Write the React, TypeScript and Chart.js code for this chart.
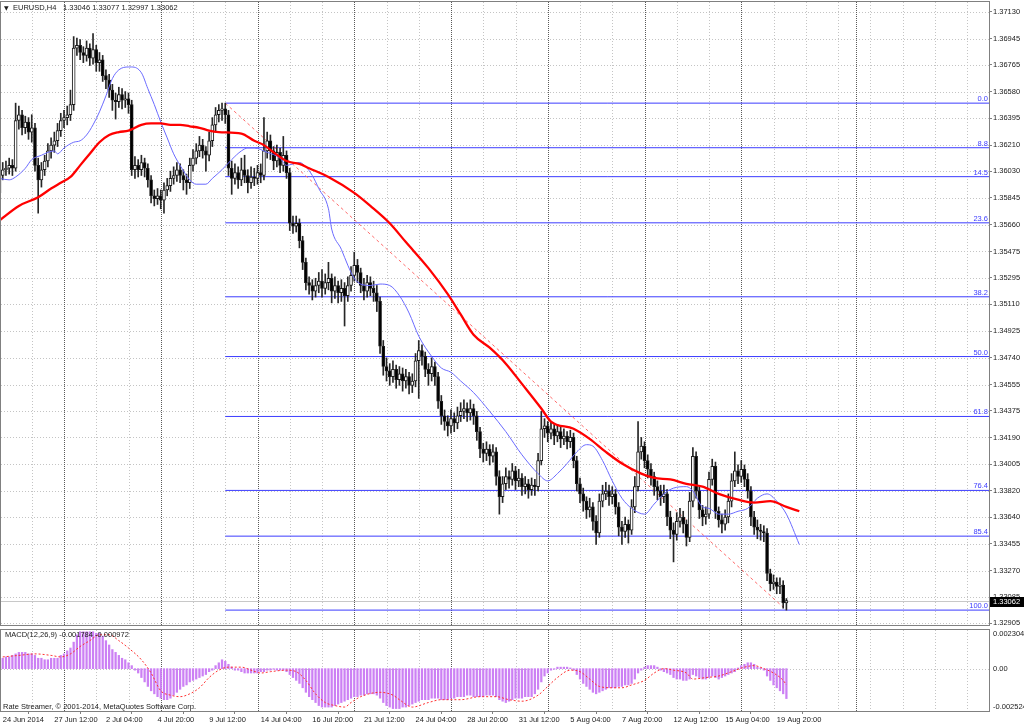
import React, { useEffect, useRef } from "react";
import { Chart, registerables } from "chart.js";

Chart.register(...registerables);

// ---------------- data (EURUSD H4) ----------------
const FIRST_OPEN = 1.3588;
const CLOSES = [
  1.3600, 1.3604, 1.3605, 1.3607, 1.3605, 1.3638, 1.3642, 1.3633, 1.3637, 1.3630,
  1.3633, 1.3607, 1.3597, 1.3604, 1.3610, 1.3617, 1.3621, 1.3624, 1.3631, 1.3638,
  1.3640, 1.3642, 1.3649, 1.3688, 1.3690, 1.3685, 1.3683, 1.3688, 1.3681, 1.3687,
  1.3678, 1.3680, 1.3669, 1.3666, 1.3659, 1.3652, 1.3651, 1.3656, 1.3652, 1.3653,
  1.3649, 1.3604, 1.3607, 1.3604, 1.3609, 1.3605, 1.3597, 1.3586, 1.3584, 1.3586,
  1.3583, 1.3590, 1.3593, 1.3598, 1.3600, 1.3604, 1.3600, 1.3597, 1.3595, 1.3607,
  1.3612, 1.3617, 1.3621, 1.3617, 1.3614, 1.3624, 1.3635, 1.3642, 1.3645, 1.3646,
  1.3642, 1.3605, 1.3598, 1.3602, 1.3597, 1.3604, 1.3600, 1.3595, 1.3599, 1.3598,
  1.3602, 1.3600, 1.3617, 1.3624, 1.3617, 1.3610, 1.3616, 1.3607, 1.3614, 1.3602,
  1.3567, 1.3565, 1.3567, 1.3555, 1.3540, 1.3526, 1.3524, 1.3520, 1.3524, 1.3527,
  1.3522, 1.3526, 1.3529, 1.3520, 1.3524, 1.3519, 1.3522, 1.3517, 1.3524, 1.3531,
  1.3538, 1.3533, 1.3524, 1.3520, 1.3526, 1.3522, 1.3519, 1.3513, 1.3482, 1.3468,
  1.3465, 1.3461, 1.3466, 1.3459, 1.3463, 1.3458, 1.3461, 1.3455, 1.3458, 1.3472,
  1.3479, 1.3475, 1.3466, 1.3463, 1.3468, 1.3461, 1.3444, 1.3434, 1.3430, 1.3427,
  1.3432, 1.3429, 1.3434, 1.3437, 1.3439, 1.3436, 1.3439, 1.3434, 1.3423, 1.3411,
  1.3408, 1.3411, 1.3406, 1.3409, 1.3392, 1.3378, 1.3387, 1.3392, 1.3390, 1.3396,
  1.3389, 1.3391, 1.3385, 1.3387, 1.3383, 1.3386, 1.3385, 1.3403, 1.3425, 1.3427,
  1.3422, 1.3425, 1.3420, 1.3423, 1.3418, 1.3420, 1.3416, 1.3419, 1.3403, 1.3387,
  1.3380, 1.3375, 1.3369, 1.3371, 1.3361, 1.3353, 1.3375, 1.3380, 1.3382, 1.3378,
  1.3380, 1.3371, 1.3357, 1.3354, 1.3359, 1.3355, 1.3371, 1.3385, 1.3409, 1.3413,
  1.3403, 1.3397, 1.3392, 1.3385, 1.3382, 1.3378, 1.3380, 1.3364, 1.3355, 1.3352,
  1.3361, 1.3364, 1.3359, 1.3350, 1.3375, 1.3406, 1.3382, 1.3369, 1.3364, 1.3366,
  1.3390, 1.3399, 1.3368, 1.3362, 1.3359, 1.3364, 1.3375, 1.3389, 1.3396, 1.3392,
  1.3397, 1.3390, 1.3382, 1.3364, 1.3357, 1.3355, 1.3354, 1.3353, 1.3325, 1.3318,
  1.3319, 1.3316, 1.3317, 1.33046, 1.33062,
];
const HIGHS = [
  1.3619, 1.3609, 1.3610, 1.3612, 1.3611, 1.3650, 1.3648, 1.3645, 1.3641, 1.3640,
  1.3642, 1.3636, 1.3612, 1.3609, 1.3614, 1.3622, 1.3626, 1.3630, 1.3636, 1.3643,
  1.3645, 1.3648, 1.3659, 1.3696, 1.3695, 1.3694, 1.3689, 1.3693, 1.3691, 1.3698,
  1.3690, 1.3685, 1.3683, 1.3673, 1.3670, 1.3663, 1.3657, 1.3661, 1.3660, 1.3658,
  1.3657, 1.3652, 1.3613, 1.3611, 1.3614, 1.3612, 1.3608, 1.3600, 1.3590, 1.3591,
  1.3590, 1.3595, 1.3598, 1.3603, 1.3606, 1.3609, 1.3608, 1.3604, 1.3601, 1.3612,
  1.3618, 1.3622, 1.3627, 1.3625, 1.3620, 1.3630, 1.3640, 1.3647, 1.3649, 1.3650,
  1.3650, 1.3645, 1.3610, 1.3608, 1.3606, 1.3612, 1.3614, 1.3604, 1.3606, 1.3605,
  1.3607, 1.3608, 1.3640, 1.3630, 1.3628, 1.3620, 1.3621, 1.3619, 1.3627, 1.3617,
  1.3605, 1.3572, 1.3572, 1.3570, 1.3558, 1.3543, 1.3530, 1.3528, 1.3529, 1.3533,
  1.3535, 1.3532, 1.3540, 1.3532, 1.3530, 1.3527, 1.3528, 1.3526, 1.3530, 1.3537,
  1.3547, 1.3542, 1.3536, 1.3529, 1.3531, 1.3530, 1.3527, 1.3524, 1.3516, 1.3486,
  1.3474, 1.3470, 1.3472, 1.3469, 1.3468, 1.3467, 1.3466, 1.3464, 1.3463, 1.3477,
  1.3486, 1.3483, 1.3478, 1.3470, 1.3474, 1.3471, 1.3464, 1.3448, 1.3438, 1.3434,
  1.3438, 1.3436, 1.3440, 1.3443, 1.3445, 1.3443, 1.3445, 1.3442, 1.3437, 1.3426,
  1.3415, 1.3416, 1.3414, 1.3414, 1.3412, 1.3396, 1.3392, 1.3398, 1.3396, 1.3401,
  1.3399, 1.3397, 1.3394, 1.3392, 1.3390, 1.3391, 1.3390, 1.3408, 1.3437, 1.3432,
  1.3430, 1.3430, 1.3428, 1.3428, 1.3426, 1.3425, 1.3423, 1.3424, 1.3422, 1.3406,
  1.3391, 1.3384, 1.3378, 1.3377, 1.3374, 1.3365, 1.3380, 1.3386, 1.3388, 1.3386,
  1.3385, 1.3383, 1.3374, 1.3361, 1.3364, 1.3362, 1.3376, 1.3392, 1.3430, 1.3419,
  1.3416, 1.3407, 1.3401, 1.3395, 1.3389, 1.3386, 1.3386, 1.3383, 1.3368, 1.3360,
  1.3367, 1.3370, 1.3368, 1.3362, 1.3381, 1.3412, 1.3409, 1.3385, 1.3372, 1.3371,
  1.3395, 1.3404, 1.3402, 1.3371, 1.3366, 1.3369, 1.3380, 1.3394, 1.3409, 1.3400,
  1.3403, 1.3400, 1.3394, 1.3385, 1.3368, 1.3362, 1.3359, 1.3358, 1.3356, 1.3328,
  1.3324, 1.3322, 1.3322, 1.3320, 1.33077,
];
const LOWS = [
  1.3585, 1.3597, 1.3600, 1.3601, 1.3600, 1.3603, 1.3632, 1.3628, 1.3629, 1.3625,
  1.3623, 1.3603, 1.3574, 1.3592, 1.3600, 1.3606, 1.3612, 1.3616, 1.3620, 1.3627,
  1.3633, 1.3635, 1.3638, 1.3645, 1.3683, 1.3680, 1.3678, 1.3679, 1.3676, 1.3677,
  1.3672, 1.3672, 1.3665, 1.3660, 1.3654, 1.3645, 1.3639, 1.3647, 1.3646, 1.3647,
  1.3643, 1.3600, 1.3598, 1.3599, 1.3600, 1.3599, 1.3592, 1.3581, 1.3579, 1.3580,
  1.3577, 1.3574, 1.3586, 1.3589, 1.3594, 1.3596, 1.3595, 1.3590, 1.3587, 1.3591,
  1.3603, 1.3608, 1.3613, 1.3612, 1.3603, 1.3610, 1.3620, 1.3630, 1.3637, 1.3638,
  1.3636, 1.3600, 1.3587, 1.3594, 1.3591, 1.3593, 1.3595, 1.3588, 1.3591, 1.3593,
  1.3594, 1.3595, 1.3597, 1.3612, 1.3611, 1.3604, 1.3606, 1.3602, 1.3603, 1.3598,
  1.3562, 1.3560, 1.3561, 1.3550, 1.3535, 1.3521, 1.3518, 1.3514, 1.3516, 1.3519,
  1.3516, 1.3518, 1.3521, 1.3512, 1.3515, 1.3512, 1.3513, 1.3496, 1.3513, 1.3520,
  1.3527, 1.3526, 1.3519, 1.3514, 1.3516, 1.3517, 1.3513, 1.3506, 1.3477, 1.3462,
  1.3458, 1.3455, 1.3457, 1.3453, 1.3455, 1.3451, 1.3453, 1.3449, 1.3450, 1.3454,
  1.3446, 1.3469, 1.3461, 1.3455, 1.3458, 1.3455, 1.3439, 1.3428, 1.3424, 1.3420,
  1.3422, 1.3423, 1.3425, 1.3430, 1.3432, 1.3430, 1.3431, 1.3428, 1.3417, 1.3405,
  1.3402, 1.3403, 1.3400, 1.3402, 1.3386, 1.3366, 1.3374, 1.3383, 1.3384, 1.3386,
  1.3383, 1.3385, 1.3379, 1.3380, 1.3377, 1.3379, 1.3379, 1.3382, 1.3400, 1.3419,
  1.3416, 1.3418, 1.3414, 1.3416, 1.3412, 1.3414, 1.3411, 1.3412, 1.3398, 1.3382,
  1.3374, 1.3368, 1.3363, 1.3364, 1.3355, 1.3345, 1.3350, 1.3371, 1.3376, 1.3372,
  1.3373, 1.3366, 1.3351, 1.3345, 1.3350, 1.3346, 1.3352, 1.3367, 1.3382, 1.3404,
  1.3398, 1.3391, 1.3386, 1.3379, 1.3376, 1.3372, 1.3374, 1.3358, 1.3349, 1.3333,
  1.3348, 1.3357, 1.3353, 1.3344, 1.3347, 1.3371, 1.3377, 1.3363, 1.3358, 1.3359,
  1.3363, 1.3386, 1.3363, 1.3357, 1.3353, 1.3355, 1.3360, 1.3371, 1.3385, 1.3387,
  1.3388, 1.3385, 1.3377, 1.3358, 1.3352, 1.3349, 1.3348, 1.3347, 1.3320, 1.3313,
  1.3314, 1.3311, 1.3311, 1.3301, 1.32997,
];

// moving averages (read at sample bars; drawn shifted forward as on the chart)
const BLUE_MA_BARS = [0, 3, 5, 8, 10, 13, 15, 17, 18, 20, 23, 25, 27, 29, 31, 33, 35, 37, 40, 41, 44, 46, 48, 50, 52, 54, 56, 59, 61, 64, 66, 69, 72, 75, 77, 79, 83, 87, 89, 91, 93, 95, 97, 99, 102, 103, 106, 108, 110, 112, 115, 118, 121, 124, 127, 130, 134, 137, 140, 143, 147, 152, 157, 162, 167, 170, 173, 176, 179, 182, 184, 187, 190, 193, 196, 200, 203, 206, 209, 213, 215, 218, 220, 223, 226, 229, 232, 235, 238, 241, 244, 248];
const BLUE_MA = [1.3598, 1.3597, 1.3599, 1.3605, 1.3611, 1.3614, 1.3616, 1.3617, 1.3615, 1.3619, 1.3623, 1.3624, 1.3628, 1.3635, 1.3644, 1.3655, 1.3667, 1.3673, 1.3675, 1.3675, 1.3671, 1.3660, 1.3649, 1.3637, 1.3626, 1.3615, 1.3607, 1.3597, 1.3594, 1.3594, 1.3598, 1.3604, 1.3611, 1.3617, 1.3619, 1.3619, 1.3616, 1.3612, 1.3607, 1.3608, 1.3609, 1.3606, 1.3600, 1.3591, 1.3577, 1.3563, 1.3549, 1.3538, 1.3529, 1.3525, 1.3524, 1.3525, 1.3524, 1.3517, 1.3505, 1.3489, 1.3475, 1.3467, 1.3464, 1.3458, 1.3450, 1.3437, 1.3423, 1.3407, 1.3394, 1.3389, 1.3394, 1.3401, 1.3409, 1.3414, 1.3413, 1.3403, 1.3389, 1.3377, 1.3370, 1.3366, 1.3373, 1.3380, 1.3384, 1.3385, 1.3382, 1.3371, 1.3370, 1.3366, 1.3366, 1.3368, 1.3370, 1.3377, 1.3380, 1.3375, 1.3366, 1.3345];
const RED_MA_BARS = [0, 6, 12, 16, 19, 22, 25, 28, 31, 34, 37, 40, 44, 47, 50, 53, 56, 59, 62, 65, 68, 75, 79, 82, 85, 89, 93, 96, 102, 110, 115, 121, 126, 133, 139, 143, 147, 152, 157, 162, 168, 171, 178, 183, 188, 193, 199, 203, 208, 213, 218, 223, 229, 234, 239, 244, 248];
const RED_MA = [1.3569, 1.3579, 1.3585, 1.3591, 1.3595, 1.3599, 1.3607, 1.3615, 1.3623, 1.3628, 1.3630, 1.3631, 1.3635, 1.3636, 1.3636, 1.3635, 1.3635, 1.3634, 1.3633, 1.3631, 1.3630, 1.3629, 1.3624, 1.3621, 1.3616, 1.3610, 1.3608, 1.3605, 1.3599, 1.3588, 1.3579, 1.3567, 1.3554, 1.3536, 1.3518, 1.3504, 1.3490, 1.3481, 1.3470, 1.3456, 1.3439, 1.3430, 1.3425, 1.3418, 1.3409, 1.3401, 1.3394, 1.3391, 1.3390, 1.3387, 1.3385, 1.3380, 1.3376, 1.3374, 1.3375, 1.3371, 1.3368];

// MACD(12,26,9)
const MACD_HIST = [
  0.00053, 0.00062, 0.00070, 0.00070, 0.00079, 0.00088, 0.00097, 0.00097, 0.00097, 0.00088,
  0.00088, 0.00079, 0.00062, 0.00062, 0.00053, 0.00053, 0.00062, 0.00062, 0.00062, 0.00079,
  0.00088, 0.00106, 0.00123, 0.00158, 0.00202, 0.00220, 0.00220, 0.00220, 0.00220, 0.00220,
  0.00211, 0.00211, 0.00194, 0.00167, 0.00141, 0.00114, 0.00097, 0.00079, 0.00062, 0.00053,
  0.00035, 0.00018, -0.00009, -0.00026, -0.00053, -0.00079, -0.00106, -0.00132, -0.00150, -0.00167,
  -0.00176, -0.00185, -0.00185, -0.00176, -0.00158, -0.00141, -0.00123, -0.00106, -0.00097, -0.00079,
  -0.00070, -0.00062, -0.00053, -0.00044, -0.00035, -0.00018, -0.00009, 0.00018, 0.00035, 0.00053,
  0.00044, 0.00026, 0.00009, -0.00009, -0.00009, -0.00018, -0.00026, -0.00026, -0.00026, -0.00026,
  -0.00026, -0.00018, -0.00018, -0.00009, -0.00009, -0.00004, -0.00009, -0.00009, -0.00009, -0.00018,
  -0.00035, -0.00053, -0.00070, -0.00088, -0.00114, -0.00141, -0.00167, -0.00185, -0.00202, -0.00220,
  -0.00229, -0.00229, -0.00229, -0.00229, -0.00220, -0.00211, -0.00202, -0.00194, -0.00185, -0.00176,
  -0.00167, -0.00167, -0.00158, -0.00158, -0.00150, -0.00150, -0.00150, -0.00158, -0.00176, -0.00202,
  -0.00220, -0.00229, -0.00238, -0.00238, -0.00238, -0.00229, -0.00229, -0.00220, -0.00211, -0.00202,
  -0.00194, -0.00185, -0.00185, -0.00185, -0.00176, -0.00176, -0.00176, -0.00185, -0.00185, -0.00185,
  -0.00176, -0.00176, -0.00167, -0.00167, -0.00167, -0.00158, -0.00158, -0.00167, -0.00167, -0.00167,
  -0.00167, -0.00158, -0.00158, -0.00158, -0.00167, -0.00185, -0.00194, -0.00202, -0.00194, -0.00185,
  -0.00176, -0.00176, -0.00176, -0.00167, -0.00167, -0.00167, -0.00150, -0.00123, -0.00079, -0.00044,
  -0.00026, -0.00009, -0.00004, 0.00009, 0.00009, 0.00009, 0.00009, 0.00004, -0.00009, -0.00035,
  -0.00062, -0.00088, -0.00106, -0.00123, -0.00141, -0.00150, -0.00141, -0.00132, -0.00123, -0.00114,
  -0.00114, -0.00114, -0.00106, -0.00106, -0.00097, -0.00097, -0.00088, -0.00062, -0.00026, -0.00009,
  0.00009, 0.00018, 0.00018, 0.00018, 0.00009, -0.00009, -0.00018, -0.00026, -0.00035, -0.00053,
  -0.00062, -0.00062, -0.00070, -0.00070, -0.00062, -0.00035, -0.00044, -0.00053, -0.00062, -0.00062,
  -0.00053, -0.00044, -0.00053, -0.00062, -0.00053, -0.00044, -0.00035, -0.00026, -0.00018, 0.00004,
  0.00018, 0.00026, 0.00035, 0.00035, 0.00026, 0.00009, 0.00004, -0.00009, -0.00044, -0.00070,
  -0.00097, -0.00114, -0.00132, -0.00150, -0.001784,
];
const SIGNAL_BARS = [1, 6, 11, 16, 19, 22, 25, 28, 31, 34, 37, 40, 44, 47, 50, 53, 56, 59, 62, 65, 68, 71, 75, 78, 81, 84, 89, 92, 95, 98, 101, 104, 107, 109, 112, 118, 122, 124, 128, 133, 137, 143, 149, 154, 158, 162, 167, 170, 173, 177, 180, 183, 186, 190, 193, 196, 200, 203, 206, 209, 213, 215, 219, 223, 227, 231, 234, 237, 240, 243, 244];
const SIGNAL = [0.00070, 0.00079, 0.00088, 0.00079, 0.00070, 0.00088, 0.00132, 0.00167, 0.00202, 0.00202, 0.00167, 0.00123, 0.00053, -0.00026, -0.00132, -0.00158, -0.00167, -0.00150, -0.00114, -0.00053, -0.00009, 0.00009, 0.00009, -0.00009, -0.00026, -0.00018, -0.00009, -0.00018, -0.00070, -0.00150, -0.00202, -0.00220, -0.00229, -0.00202, -0.00167, -0.00141, -0.00158, -0.00185, -0.00229, -0.00202, -0.00185, -0.00185, -0.00167, -0.00167, -0.00185, -0.00194, -0.00158, -0.00106, -0.00053, -0.00009, -0.00018, -0.00062, -0.00106, -0.00114, -0.00114, -0.00097, -0.00070, -0.00026, 0.00000, -0.00009, -0.00026, -0.00062, -0.00053, -0.00044, -0.00018, 0.00009, 0.00018, 0.00000, -0.00026, -0.00070, -0.000972];

// Fibonacci retracement
const FIB_LABELS = ["0.0", "8.8", "14.5", "23.6", "38.2", "50.0", "61.8", "76.4", "85.4", "100.0"];
const FIB_PRICES = [1.36500, 1.36192, 1.35992, 1.35673, 1.35162, 1.34749, 1.34335, 1.33824, 1.33508, 1.32997];
const FIB_FROM_BAR = 70;
const FIB_TO_BAR = 244;

// axes
const PRICE_TICKS = [1.37130, 1.36945, 1.36765, 1.36580, 1.36395, 1.36210, 1.36030, 1.35845, 1.35660, 1.35475, 1.35295, 1.35110, 1.34925, 1.34740, 1.34555, 1.34375, 1.34190, 1.34005, 1.33820, 1.33640, 1.33455, 1.33270, 1.33085, 1.32905];
const X_LABEL_BARS = [1, 17, 33, 49, 65, 81, 97, 113, 129, 145, 161, 177, 193, 209, 225, 241];
const X_LABELS = ["24 Jun 2014", "27 Jun 12:00", "2 Jul 04:00", "4 Jul 20:00", "9 Jul 12:00", "14 Jul 04:00", "16 Jul 20:00", "21 Jul 12:00", "24 Jul 04:00", "28 Jul 20:00", "31 Jul 12:00", "5 Aug 04:00", "7 Aug 20:00", "12 Aug 12:00", "15 Aug 04:00", "19 Aug 20:00"];
const SEPARATOR_BARS = [20, 50, 80, 110, 140, 170, 200, 230, 265.6];
const GRID_BARS = [10, 30, 40, 60, 70, 90, 100, 120, 130, 150, 160, 180, 190, 210, 220, 240, 250, 260, 270, 280, 290, 300];

const X_MIN = 0.465;
const X_MAX = 306.82;
const PRICE_MIN = 1.32894;
const PRICE_MAX = 1.37199;
const MACD_MIN = -0.002524;
const MACD_MAX = 0.002304;

// ---------------- styling ----------------
const FAMILY = '"Liberation Sans", Arial, sans-serif';
const FONT = `7.5px ${FAMILY}`;
const GRID_COLOR = "#c4c4c4";
const SEP_COLOR = "#5a5a5a";
const FRAME_COLOR = "#808080";
const FIB_COLOR = "#3c3cff";

const OPENS = CLOSES.map((c, i) => (i === 0 ? FIRST_OPEN : CLOSES[i - 1]));
const LAST = CLOSES.length - 1;

function vline(ctx: any, x: number, top: number, bottom: number) {
  ctx.beginPath();
  ctx.moveTo(x, top);
  ctx.lineTo(x, bottom);
  ctx.stroke();
}
function hline(ctx: any, y: number, left: number, right: number) {
  ctx.beginPath();
  ctx.moveTo(left, y);
  ctx.lineTo(right, y);
  ctx.stroke();
}

function drawVerticalGrid(ctx: any, xs: any, a: any) {
  ctx.lineWidth = 1;
  ctx.setLineDash([1, 2]);
  ctx.strokeStyle = GRID_COLOR;
  for (const b of GRID_BARS) {
    const px = Math.round(xs.getPixelForValue(b)) + 0.5;
    vline(ctx, px, a.top, a.bottom);
  }
  ctx.setLineDash([1, 1]);
  ctx.strokeStyle = SEP_COLOR;
  for (const b of SEPARATOR_BARS) {
    const px = Math.round(xs.getPixelForValue(b)) + 0.5;
    vline(ctx, px, a.top, a.bottom);
  }
}

function drawFrame(ctx: any, a: any) {
  ctx.save();
  ctx.setLineDash([]);
  ctx.lineWidth = 1;
  ctx.strokeStyle = FRAME_COLOR;
  ctx.strokeRect(a.left - 0.5, a.top - 0.5, a.right - a.left + 1, a.bottom - a.top + 1);
  ctx.restore();
}

const mainDecor = {
  id: "mainDecor",
  beforeDatasetsDraw(chart: any) {
    const { ctx, chartArea: a, scales } = chart;
    const xs = scales.x;
    const ys = scales.y;
    ctx.save();
    ctx.beginPath();
    ctx.rect(a.left, a.top, a.right - a.left, a.bottom - a.top);
    ctx.clip();
    ctx.lineWidth = 1;
    ctx.setLineDash([1, 2]);
    ctx.strokeStyle = GRID_COLOR;
    for (const t of PRICE_TICKS) {
      const py = Math.round(ys.getPixelForValue(t)) + 0.5;
      hline(ctx, py, a.left, a.right);
    }
    drawVerticalGrid(ctx, xs, a);
    // bid line
    ctx.setLineDash([]);
    ctx.strokeStyle = "#c8c8c8";
    hline(ctx, Math.round(ys.getPixelForValue(CLOSES[LAST])) + 0.5, a.left, a.right);
    ctx.restore();
  },
  afterDatasetsDraw(chart: any) {
    const { ctx, chartArea: a, scales } = chart;
    const ys = scales.y;
    ctx.save();
    // fib level labels
    ctx.font = FONT;
    ctx.fillStyle = FIB_COLOR;
    ctx.textAlign = "right";
    ctx.textBaseline = "bottom";
    FIB_PRICES.forEach((p, i) => {
      const py = Math.round(ys.getPixelForValue(p));
      ctx.fillText(FIB_LABELS[i], a.right - 1, py);
    });
    // header
    ctx.fillStyle = "#1a1a1a";
    ctx.textAlign = "left";
    ctx.textBaseline = "middle";
    ctx.font = `6px "DejaVu Sans", ${FAMILY}`;
    ctx.fillText("\u25BC", 4, 8);
    ctx.font = FONT;
    ctx.fillText("EURUSD,H4", 13, 8);
    ctx.fillText(
      `${OPENS[LAST].toFixed(5)} ${HIGHS[LAST].toFixed(5)} ${LOWS[LAST].toFixed(5)} ${CLOSES[LAST].toFixed(5)}`,
      63,
      8
    );
    ctx.restore();
    drawFrame(ctx, a);
    // current price tag
    ctx.save();
    const py = Math.round(ys.getPixelForValue(CLOSES[LAST]));
    ctx.fillStyle = "#000";
    ctx.fillRect(a.right + 1, py - 4, chart.width - a.right - 1, 10);
    ctx.fillStyle = "#fff";
    ctx.font = FONT;
    ctx.textAlign = "left";
    ctx.textBaseline = "middle";
    ctx.fillText(CLOSES[LAST].toFixed(5), a.right + 4, py + 1);
    ctx.restore();
  },
};

const macdDecor = {
  id: "macdDecor",
  beforeDatasetsDraw(chart: any) {
    const { ctx, chartArea: a, scales } = chart;
    ctx.save();
    ctx.beginPath();
    ctx.rect(a.left, a.top, a.right - a.left, a.bottom - a.top);
    ctx.clip();
    drawVerticalGrid(ctx, scales.x, a);
    ctx.setLineDash([1, 2]);
    ctx.strokeStyle = GRID_COLOR;
    hline(ctx, Math.round(scales.y.getPixelForValue(0)) + 0.5, a.left, a.right);
    ctx.restore();
  },
  afterDatasetsDraw(chart: any) {
    const { ctx, chartArea: a, scales } = chart;
    const ys = scales.y;
    drawFrame(ctx, a);
    ctx.save();
    ctx.font = FONT;
    ctx.fillStyle = "#1a1a1a";
    ctx.textAlign = "left";
    ctx.textBaseline = "middle";
    ctx.fillText(
      `MACD(12,26,9) ${MACD_HIST[LAST].toFixed(6)} ${SIGNAL[SIGNAL.length - 1].toFixed(6)}`,
      5,
      a.top + 5
    );
    ctx.fillText("Rate Streamer, \u00A9 2001-2014, MetaQuotes Software Corp.", 3, a.bottom - 4);
    const lx = a.right + 4;
    ctx.fillText(MACD_MAX.toFixed(6), lx, a.top + 4);
    ctx.fillText("0.00", lx, Math.round(ys.getPixelForValue(0)));
    ctx.fillText(MACD_MIN.toFixed(6), lx, a.bottom - 4);
    ctx.restore();
  },
};

function mainConfig(): any {
  const lineBase = { type: "line", pointRadius: 0, fill: false, cubicInterpolationMode: "monotone" };
  const datasets: any[] = [];
  FIB_PRICES.forEach((p, i) => {
    datasets.push({
      ...lineBase,
      label: `fib ${FIB_LABELS[i]}`,
      data: [
        { x: FIB_FROM_BAR, y: p },
        { x: X_MAX, y: p },
      ],
      borderColor: FIB_COLOR,
      borderWidth: 1,
      order: 6,
    });
  });
  datasets.push({
    ...lineBase,
    label: "fib trend",
    data: [
      { x: FIB_FROM_BAR, y: FIB_PRICES[0] },
      { x: FIB_TO_BAR, y: FIB_PRICES[FIB_PRICES.length - 1] },
    ],
    borderColor: "#ff6a6a",
    borderWidth: 1,
    borderDash: [3, 3],
    order: 5,
  });
  datasets.push({
    type: "bar",
    label: "wicks",
    data: HIGHS.map((h, i) => ({ x: i, y: [LOWS[i], h] })),
    backgroundColor: "#262626",
    barThickness: 1,
    grouped: false,
    order: 4,
  });
  datasets.push({
    type: "bar",
    label: "bodies",
    data: CLOSES.map((c, i) => ({ x: i, y: [OPENS[i], c] })),
    backgroundColor: CLOSES.map((c, i) => (c >= OPENS[i] ? "#ffffff" : "#000000")),
    borderColor: "#1a1a1a",
    borderWidth: 1,
    borderSkipped: false,
    barThickness: 3,
    minBarLength: 1,
    grouped: false,
    order: 3,
  });
  datasets.push({
    ...lineBase,
    label: "MA fast",
    data: BLUE_MA_BARS.map((b, i) => ({ x: b, y: BLUE_MA[i] })),
    borderColor: "#6a6aff",
    borderWidth: 1,
    order: 2,
  });
  datasets.push({
    ...lineBase,
    label: "MA slow",
    data: RED_MA_BARS.map((b, i) => ({ x: b, y: RED_MA[i] })),
    borderColor: "#ff0000",
    borderWidth: 2.3,
    order: 1,
  });
  return {
    type: "bar",
    data: { datasets },
    options: {
      animation: false,
      responsive: false,
      maintainAspectRatio: false,
      devicePixelRatio: 1,
      events: [],
      layout: { padding: { left: 1, top: 2, right: 0, bottom: 2 }, autoPadding: false },
      plugins: { legend: { display: false }, tooltip: { enabled: false } },
      scales: {
        x: { type: "linear", min: X_MIN, max: X_MAX, offset: false, display: false },
        y: {
          type: "linear",
          position: "right",
          min: PRICE_MIN,
          max: PRICE_MAX,
          afterBuildTicks: (s: any) => {
            s.ticks = PRICE_TICKS.map((v) => ({ value: v }));
          },
          afterFit: (s: any) => {
            s.width = 35;
            s.paddingTop = 0;
            s.paddingBottom = 0;
          },
          ticks: {
            callback: (v: any) => Number(v).toFixed(5),
            font: { family: FAMILY, size: 7.5 },
            color: "#1a1a1a",
            padding: 1,
            autoSkip: false,
          },
          grid: { display: true, drawOnChartArea: false, drawTicks: true, tickLength: 3, color: FRAME_COLOR },
          border: { display: false },
        },
      },
    },
    plugins: [mainDecor],
  };
}

function macdConfig(): any {
  return {
    type: "bar",
    data: {
      datasets: [
        {
          type: "line",
          label: "Signal",
          data: SIGNAL_BARS.map((b, i) => ({ x: b, y: SIGNAL[i] })),
          borderColor: "#ff3030",
          borderWidth: 1,
          borderDash: [2, 2],
          pointRadius: 0,
          fill: false,
          cubicInterpolationMode: "monotone",
          order: 1,
        },
        {
          type: "bar",
          label: "MACD",
          data: MACD_HIST.map((v, i) => ({ x: i, y: v })),
          backgroundColor: "#cc80f4",
          barThickness: 1.6,
          grouped: false,
          order: 2,
        },
      ],
    },
    options: {
      animation: false,
      responsive: false,
      maintainAspectRatio: false,
      devicePixelRatio: 1,
      events: [],
      layout: { padding: { left: 1, top: 3, right: 0, bottom: 0 }, autoPadding: false },
      plugins: { legend: { display: false }, tooltip: { enabled: false } },
      scales: {
        x: {
          type: "linear",
          min: X_MIN,
          max: X_MAX,
          offset: false,
          position: "bottom",
          afterBuildTicks: (s: any) => {
            s.ticks = X_LABEL_BARS.map((v) => ({ value: v }));
          },
          afterFit: (s: any) => {
            s.height = 16;
            s.paddingLeft = 0;
            s.paddingRight = 0;
          },
          ticks: {
            callback: (_v: any, i: number) => X_LABELS[i],
            align: "start",
            autoSkip: false,
            maxRotation: 0,
            minRotation: 0,
            font: { family: FAMILY, size: 7.5 },
            color: "#1a1a1a",
            padding: 1,
          },
          grid: { display: true, drawOnChartArea: false, drawTicks: true, tickLength: 3, color: FRAME_COLOR },
          border: { display: false },
        },
        y: {
          type: "linear",
          position: "right",
          min: MACD_MIN,
          max: MACD_MAX,
          afterFit: (s: any) => {
            s.width = 35;
            s.paddingTop = 0;
            s.paddingBottom = 0;
          },
          ticks: { display: false },
          grid: { display: false },
          border: { display: false },
        },
      },
    },
    plugins: [macdDecor],
  };
}

export default function App() {
  const mainRef = useRef<HTMLCanvasElement>(null);
  const macdRef = useRef<HTMLCanvasElement>(null);
  useEffect(() => {
    const c1 = new Chart(mainRef.current as any, mainConfig());
    const c2 = new Chart(macdRef.current as any, macdConfig());
    return () => {
      c1.destroy();
      c2.destroy();
    };
  }, []);
  return (
    <div style={{ position: "fixed", left: 0, top: 0, width: 1024, height: 727, background: "#fff" }}>
      <canvas
        ref={mainRef}
        width={1024}
        height={627}
        style={{ position: "absolute", left: 0, top: 0, width: 1024, height: 627, display: "block" }}
      />
      <canvas
        ref={macdRef}
        width={1024}
        height={100}
        style={{ position: "absolute", left: 0, top: 627, width: 1024, height: 100, display: "block" }}
      />
    </div>
  );
}
